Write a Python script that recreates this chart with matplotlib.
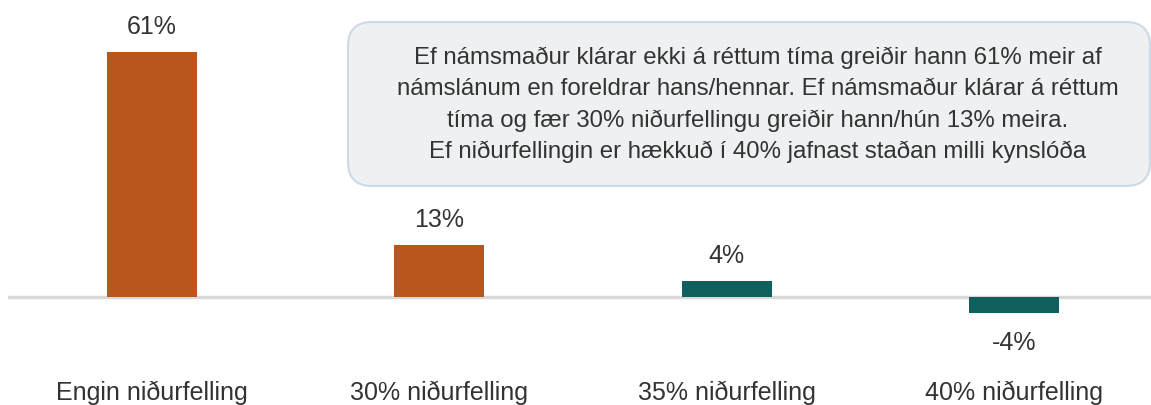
import matplotlib
matplotlib.use("Agg")
import matplotlib.pyplot as plt
from matplotlib.patches import FancyBboxPatch
from matplotlib.transforms import IdentityTransform

plt.rcParams['font.family'] = ['Liberation Sans', 'DejaVu Sans']

# data
categories = ['Engin niðurfelling', '30% niðurfelling', '35% niðurfelling', '40% niðurfelling']
values = [61, 13, 4, -4]
bar_colors = ['#B8561B', '#B8561B', '#0F5F5F', '#0F5F5F']
note = ("Ef námsmaður klárar ekki á réttum tíma greiðir hann 61% meir af\n"
        "námslánum en foreldrar hans/hennar. Ef námsmaður klárar á réttum\n"
        "tíma og fær 30% niðurfellingu greiðir hann/hún 13% meira.\n"
        "Ef niðurfellingin er hækkuð í 40% jafnast staðan milli kynslóða")

W, H = 1151, 405
fig = plt.figure(figsize=(W / 100, H / 100), dpi=100)
# axes spans a bit past the right edge so slots are 287.5 px
ax = fig.add_axes([8 / W, 0, 1150 / W, 1])
ax.set_xlim(-0.5, 3.5)
ax.set_ylim(-26.9, 74.0)
ax.axis('off')

x = range(len(categories))
ax.bar(x, values, width=0.313, color=bar_colors, zorder=2)
ax.axhline(0, color='#D9D9D9', lw=2.5, zorder=1)

txt = '#333333'
for i, v in enumerate(values):
    if v >= 0:
        ax.text(i, v + 6.3, f'{v}%', ha='center', va='center', fontsize=18, color=txt)
    else:
        ax.text(i, v - 7.4, f'{v}%', ha='center', va='center', fontsize=18, color=txt)
    ax.text(i, -23.9, categories[i], ha='center', va='center', fontsize=18, color=txt)

# note box, in pixel coords
box = FancyBboxPatch((348, H - 186), 802, 164,
                     boxstyle='round,pad=0,rounding_size=24',
                     transform=IdentityTransform(), facecolor='#EEF0F2',
                     edgecolor='#CCDAE8', lw=1.5, zorder=3)
fig.patches.append(box)
fig.text(758 / W, 1 - 105 / H, note, ha='center', va='center', fontsize=17.3,
         color=txt, linespacing=1.52, zorder=4)

fig.savefig('out.png', dpi=100)
